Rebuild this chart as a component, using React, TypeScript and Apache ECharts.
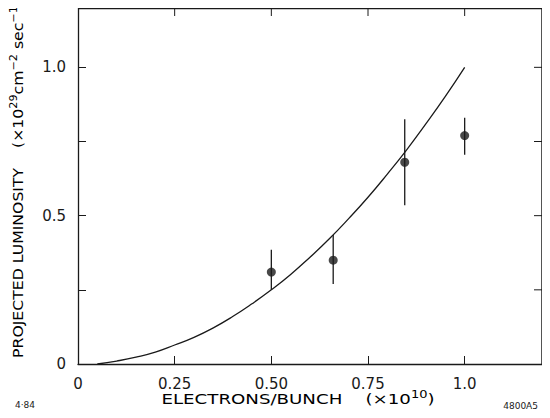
import React, { useEffect, useRef } from "react";
import * as echarts from "echarts";

const xTickValues = [0, 0.25, 0.5, 0.75, 1.0];
const xTickLabels = ["0", "0.25", "0.50", "0.75", "1.0"];
const yTickValues = [0, 0.5, 1.0];
const yTickLabels = ["0", "0.5", "1.0"];
const frameTicks = [0.25, 0.5, 0.75, 1.0];

const pointX = [0.5, 0.66, 0.845, 1.0];
const pointY = [0.31, 0.35, 0.68, 0.77];
const errLow = [0.25, 0.27, 0.535, 0.705];
const errHigh = [0.385, 0.435, 0.825, 0.83];

const curveX = [0.05, 0.1, 0.15, 0.2, 0.25, 0.3, 0.35, 0.4, 0.45, 0.5, 0.55, 0.6, 0.65, 0.7, 0.75, 0.8, 0.85, 0.9, 0.95, 1.0];
const curveY = [0.0, 0.01, 0.023, 0.04, 0.064, 0.09, 0.122, 0.16, 0.203, 0.25, 0.302, 0.36, 0.422, 0.49, 0.562, 0.64, 0.722, 0.81, 0.902, 1.0];

const xTitle = "{n|ELECTRONS/BUNCH    (×10}{s|10}{n|)}";
const yTitle = "{n|PROJECTED LUMINOSITY    (×10}{s|29}{n|cm}{s|−2}{n| sec}{s|−1}{n|)}";
const leftNote = "4·84";
const rightNote = "4800A5";

const FONT = "DejaVu Sans";
const INK = "#1a1a1a";
const AX_MIN = 0;
const AX_MAX = 1.2;
const GRID = { left: 78, right: 8, top: 8, bottom: 54 };
const W = 550;
const H = 418;

const richStyles = {
  n: { fontSize: 14, fontFamily: FONT, color: INK, lineHeight: 16, verticalAlign: "bottom" },
  s: { fontSize: 10, fontFamily: FONT, color: INK, lineHeight: 16, verticalAlign: "top" },
};

export default function App() {
  const ref = useRef<HTMLDivElement>(null);
  useEffect(() => {
    if (!ref.current) return;
    const chart = echarts.init(ref.current, undefined, { renderer: "svg" });
    const fmt = (vals: number[], labels: string[]) => (v: number) => {
      const i = vals.findIndex((t) => Math.abs(t - v) < 1e-6);
      return i >= 0 ? labels[i] : "";
    };
    const axisCommon = {
      type: "value" as const,
      min: AX_MIN,
      max: AX_MAX,
      interval: 0.25,
      splitLine: { show: false },
      axisLine: { show: true, onZero: false, lineStyle: { color: INK, width: 1.3 } },
      axisTick: { show: true, inside: true, length: 8, lineStyle: { color: INK, width: 1 } },
    };
    const left = GRID.left;
    const top = GRID.top;
    const right = W - GRID.right;
    const bottom = H - GRID.bottom;
    chart.setOption({
      animation: false,
      grid: { ...GRID, containLabel: false },
      xAxis: {
        ...axisCommon,
        axisLabel: {
          show: true,
          formatter: fmt(xTickValues, xTickLabels),
          color: INK,
          fontFamily: FONT,
          fontSize: 15,
          margin: 12,
          showMaxLabel: false,
        },
      },
      yAxis: {
        ...axisCommon,
        axisLabel: {
          show: true,
          formatter: fmt(yTickValues, yTickLabels),
          color: INK,
          fontFamily: FONT,
          fontSize: 15,
          margin: 12,
          showMaxLabel: false,
        },
      },
      series: [
        {
          // inward ticks on the top and right edges
          type: "custom",
          data: [[0]],
          silent: true,
          clip: false,
          renderItem: (params: any, api: any) => {
            const children: any[] = [];
            frameTicks.forEach((t) => {
              const px = api.coord([t, AX_MAX]);
              children.push({ type: "line", shape: { x1: px[0], y1: px[1], x2: px[0], y2: px[1] + 8 }, style: { stroke: INK, lineWidth: 1 } });
              const py = api.coord([AX_MAX, t]);
              children.push({ type: "line", shape: { x1: py[0], y1: py[1], x2: py[0] - 8, y2: py[1] }, style: { stroke: INK, lineWidth: 1 } });
            });
            return { type: "group", children };
          },
          z: 1,
        },
        {
          type: "line",
          data: curveX.map((x, i) => [x, curveY[i]]),
          smooth: true,
          showSymbol: false,
          lineStyle: { color: INK, width: 1.3 },
          z: 2,
          markLine: {
            silent: true,
            symbol: "none",
            label: { show: false },
            lineStyle: { color: INK, width: 1.3, type: "solid" },
            data: [{ yAxis: AX_MAX }, { xAxis: AX_MAX }],
          },
        },
        {
          type: "custom",
          data: pointX.map((x, i) => [x, errLow[i], errHigh[i]]),
          renderItem: (params: any, api: any) => {
            const x = api.value(0);
            const p1 = api.coord([x, api.value(1)]);
            const p2 = api.coord([x, api.value(2)]);
            return {
              type: "line",
              shape: { x1: p1[0], y1: p1[1], x2: p2[0], y2: p2[1] },
              style: { stroke: INK, lineWidth: 1.3 },
            };
          },
          z: 3,
        },
        {
          type: "scatter",
          data: pointX.map((x, i) => [x, pointY[i]]),
          symbol: "circle",
          symbolSize: 9,
          itemStyle: { color: INK },
          z: 4,
        },
      ],
      graphic: [
        {
          type: "rect",
          silent: true,
          z: 100,
          shape: { x: left, y: top - 0.7, width: right - left + 0.7, height: 1.4 },
          style: { fill: INK },
        },
        {
          type: "rect",
          silent: true,
          z: 100,
          shape: { x: right - 0.7, y: top - 0.7, width: 1.4, height: bottom - top + 0.7 },
          style: { fill: INK },
        },
        {
          type: "text",
          x: 298,
          y: 398,
          scaleX: 1.3,
          style: {
            text: xTitle,
            rich: richStyles,
            align: "center",
            verticalAlign: "middle",
          },
        },
        {
          type: "text",
          x: 17,
          y: 179,
          rotation: Math.PI / 2,
          scaleX: 1.12,
          style: {
            text: yTitle,
            rich: richStyles,
            align: "center",
            verticalAlign: "middle",
          },
        },
        {
          type: "text",
          x: 15,
          y: 405,
          style: { text: leftNote, font: `9px "${FONT}"`, fill: INK, verticalAlign: "middle" },
        },
        {
          type: "text",
          x: 538,
          y: 406,
          style: { text: rightNote, font: `9px "${FONT}"`, fill: INK, align: "right", verticalAlign: "middle" },
        },
      ],
    });
    return () => chart.dispose();
  }, []);
  return <div ref={ref} style={{ width: W, height: H, margin: -8, background: "#ffffff" }} />;
}
